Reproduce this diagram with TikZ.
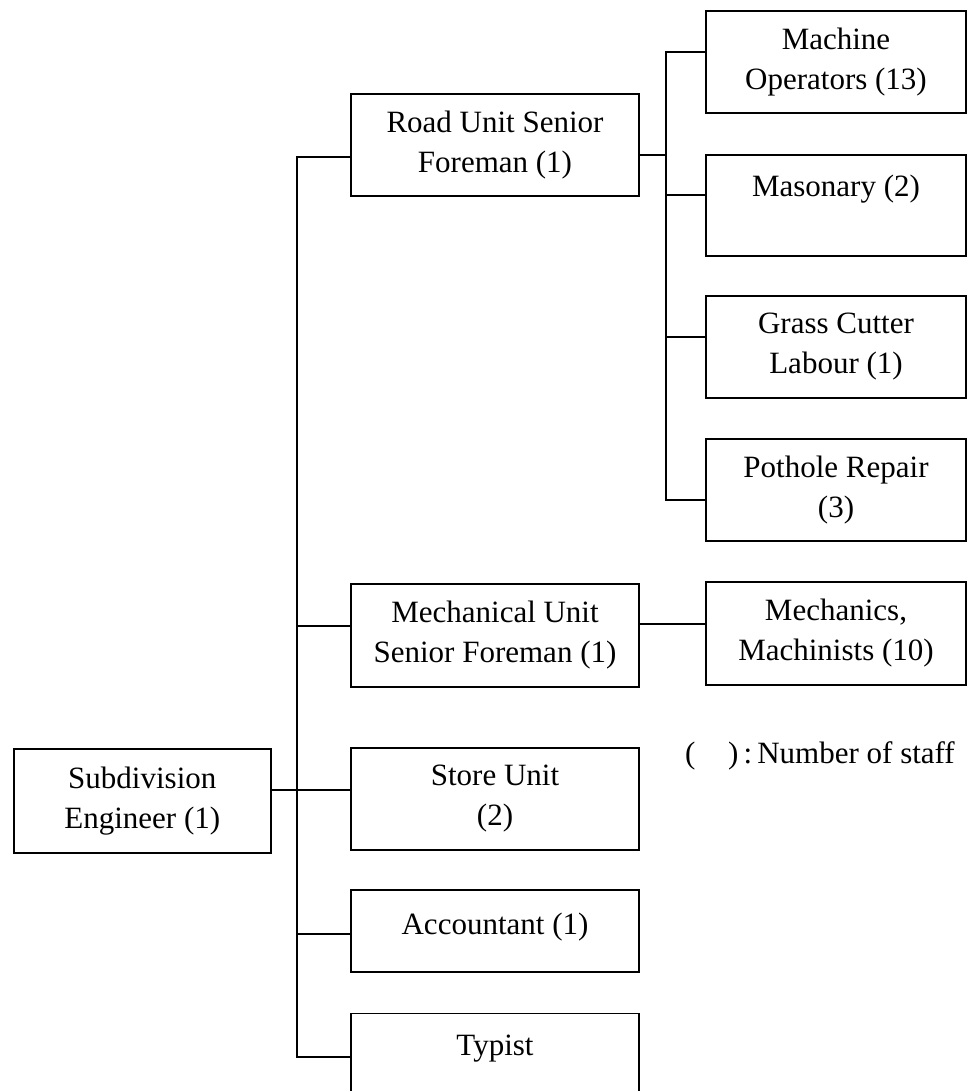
\documentclass[tikz,border=0pt]{standalone}
\usepackage{fontspec}
\setmainfont{Liberation Serif}
\begin{document}
\begin{tikzpicture}[x=1pt,y=-1pt,
  box/.style={draw,line width=1.6pt,inner sep=0pt,align=center,
    font=\fontsize{31}{40}\selectfont,minimum height=102pt},
  lbox/.style={box,minimum width=288pt},
  rbox/.style={box,minimum width=260pt},
  conn/.style={line width=1.6pt},
  trunk/.style={line width=2.4pt}]
\useasboundingbox (0,0) rectangle (969,1091);
\clip (0,0) rectangle (969,1091);
% nodes
\node[box,minimum width=257pt,minimum height=104pt] (sub) at (142.3,801) {Subdivision\\Engineer (1)};
\node[lbox] (road)  at (495,145)   {Road Unit Senior\\Foreman (1)};
\node[lbox,minimum height=103pt] (mech)  at (495,635.5) {Mechanical Unit\\Senior Foreman (1)};
\node[lbox] (store) at (495,799)   {Store Unit\\(2)};
\node[lbox,minimum height=82pt,text depth=14pt] (acct)  at (495,931) {Accountant (1)};
\node[lbox,minimum height=103pt] (typ)   at (495,1065) {Typist\\\mbox{}};
\node[rbox] (mo)    at (836,62)    {Machine\\Operators (13)};
\node[rbox,minimum height=101pt] (mas)   at (836,205.5) {Masonary (2)\\\mbox{}};
\node[rbox] (grass) at (836,347)   {Grass Cutter\\Labour (1)};
\node[rbox] (pot)   at (836,490)   {Pothole Repair\\(3)};
\node[rbox,minimum height=103pt] (mcs)   at (836,633.5) {Mechanics,\\Machinists (10)};
\node[anchor=west,inner sep=0pt,font=\fontsize{31}{40}\selectfont] (legend) at (685,756)
  {(\hspace{1.05em})\,:\,Number of staff};
% junction coordinates
\coordinate (lt) at (297,157);
\coordinate (lb) at (297,1057);
\coordinate (jsub) at (297,790);
\coordinate (jmech) at (297,626);
\coordinate (jacct) at (297,934);
\coordinate (rroad) at (666,155);
\coordinate (rt) at (666,52);
\coordinate (rmas) at (666,195);
\coordinate (rgr) at (666,337);
\coordinate (rb) at (666,500);
\coordinate (jm) at (666,624);
% left trunk
\draw[trunk] (road.west |- lt) -- (lt) -- (lb) -- (typ.west |- lb);
\draw[conn] (sub.east |- jsub) -- (store.west |- jsub);
\draw[conn] (jmech) -- (mech.west |- jmech);
\draw[conn] (jacct) -- (acct.west |- jacct);
% right trunk
\draw[conn] (road.east |- rroad) -- (rroad);
\draw[trunk] (mo.west |- rt) -- (rt) -- (rb) -- (pot.west |- rb);
\draw[conn] (rmas) -- (mas.west |- rmas);
\draw[conn] (rgr) -- (grass.west |- rgr);
\draw[conn] (mech.east |- jm) -- (mcs.west |- jm);
\end{tikzpicture}
\end{document}
